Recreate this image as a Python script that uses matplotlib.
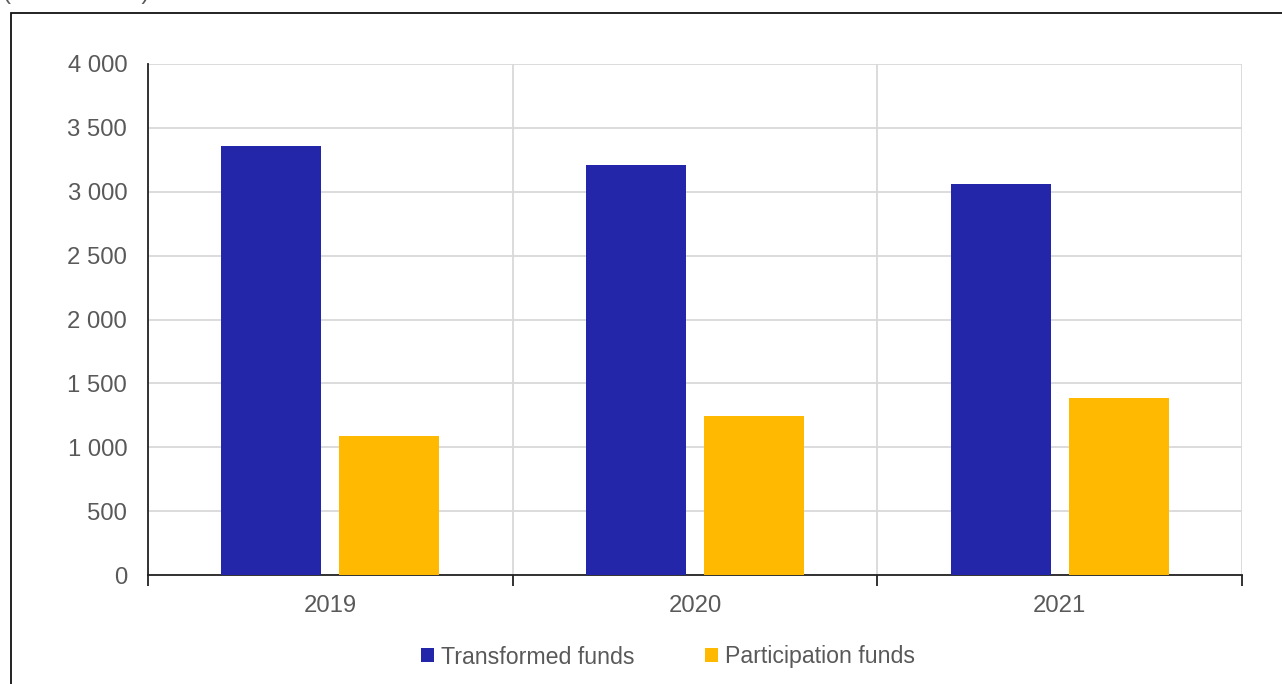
import matplotlib
matplotlib.use("Agg")
import matplotlib.pyplot as plt
from matplotlib.patches import Rectangle, Patch
from matplotlib.ticker import FuncFormatter, FixedLocator

years = ["2019", "2020", "2021"]
transformed = [3360, 3210, 3060]
participation = [1085, 1248, 1385]
series_names = ["Transformed funds", "Participation funds"]
blue = "#2326A8"
yellow = "#FFB900"
txt = "#595959"

plt.rcParams['font.family'] = ['Liberation Sans', 'DejaVu Sans']

W, H = 1282, 684
fs = 17.2
lfs = 16.7
fig = plt.figure(figsize=(W/100, H/100), dpi=100)
ax = fig.add_axes([148/W, 1 - 575/H, (1242-148)/W, (575-64)/H])

x = list(range(len(years)))
off = 0.162
bw = 0.274
ax.bar([i - off for i in x], transformed, width=bw, color=blue, zorder=3)
ax.bar([i + off for i in x], participation, width=bw, color=yellow, zorder=3)

ax.set_xlim(-0.5, len(years) - 0.5)
ax.set_ylim(0, 4000)
ax.set_yticks(range(0, 4001, 500))
ax.yaxis.set_major_formatter(FuncFormatter(lambda v, p: f"{int(v):,}".replace(",", " ")))
ax.set_xticks(x)
ax.set_xticklabels(years)
ax.xaxis.set_minor_locator(FixedLocator([-0.5, 0.5, 1.5, 2.5]))

ax.tick_params(axis='x', which='major', length=0, pad=14.5, labelsize=fs, labelcolor=txt)
ax.tick_params(axis='x', which='minor', length=8, width=1.3, color='#222222', direction='out')
ax.tick_params(axis='y', length=0, pad=15, labelsize=fs, labelcolor=txt)

ax.grid(axis='y', which='major', color='#D9D9D9', linewidth=1.3, zorder=0)
ax.grid(axis='x', which='minor', color='#D9D9D9', linewidth=1.3, zorder=0)
ax.grid(axis='x', which='major', visible=False)

for s in ['top', 'right']:
    ax.spines[s].set_visible(False)
ax.spines['left'].set_color('#222222')
ax.spines['left'].set_linewidth(1.3)
ax.spines['bottom'].set_color('#222222')
ax.spines['bottom'].set_linewidth(1.3)
ax.set_axisbelow(True)

handles = [Patch(facecolor=blue), Patch(facecolor=yellow)]
fig.legend(handles, series_names, loc='center', bbox_to_anchor=(668/W, 1 - 657/H),
           ncol=2, frameon=False, fontsize=lfs, labelcolor=txt,
           handlelength=0.55, handleheight=0.55, handletextpad=0.3, columnspacing=3.05)

# outer frame (partially cropped)
fig.patches.append(Rectangle((10.5/W, -0.1), 2, (H - 12.5)/H + 0.1, transform=fig.transFigure,
                             fill=False, edgecolor='#111111', linewidth=1.3))
fig.text(3/W, 1 + 1/H, "(EUR billions)", fontsize=fs, color=txt, va='baseline', ha='left')

fig.savefig("out.png", dpi=100)
